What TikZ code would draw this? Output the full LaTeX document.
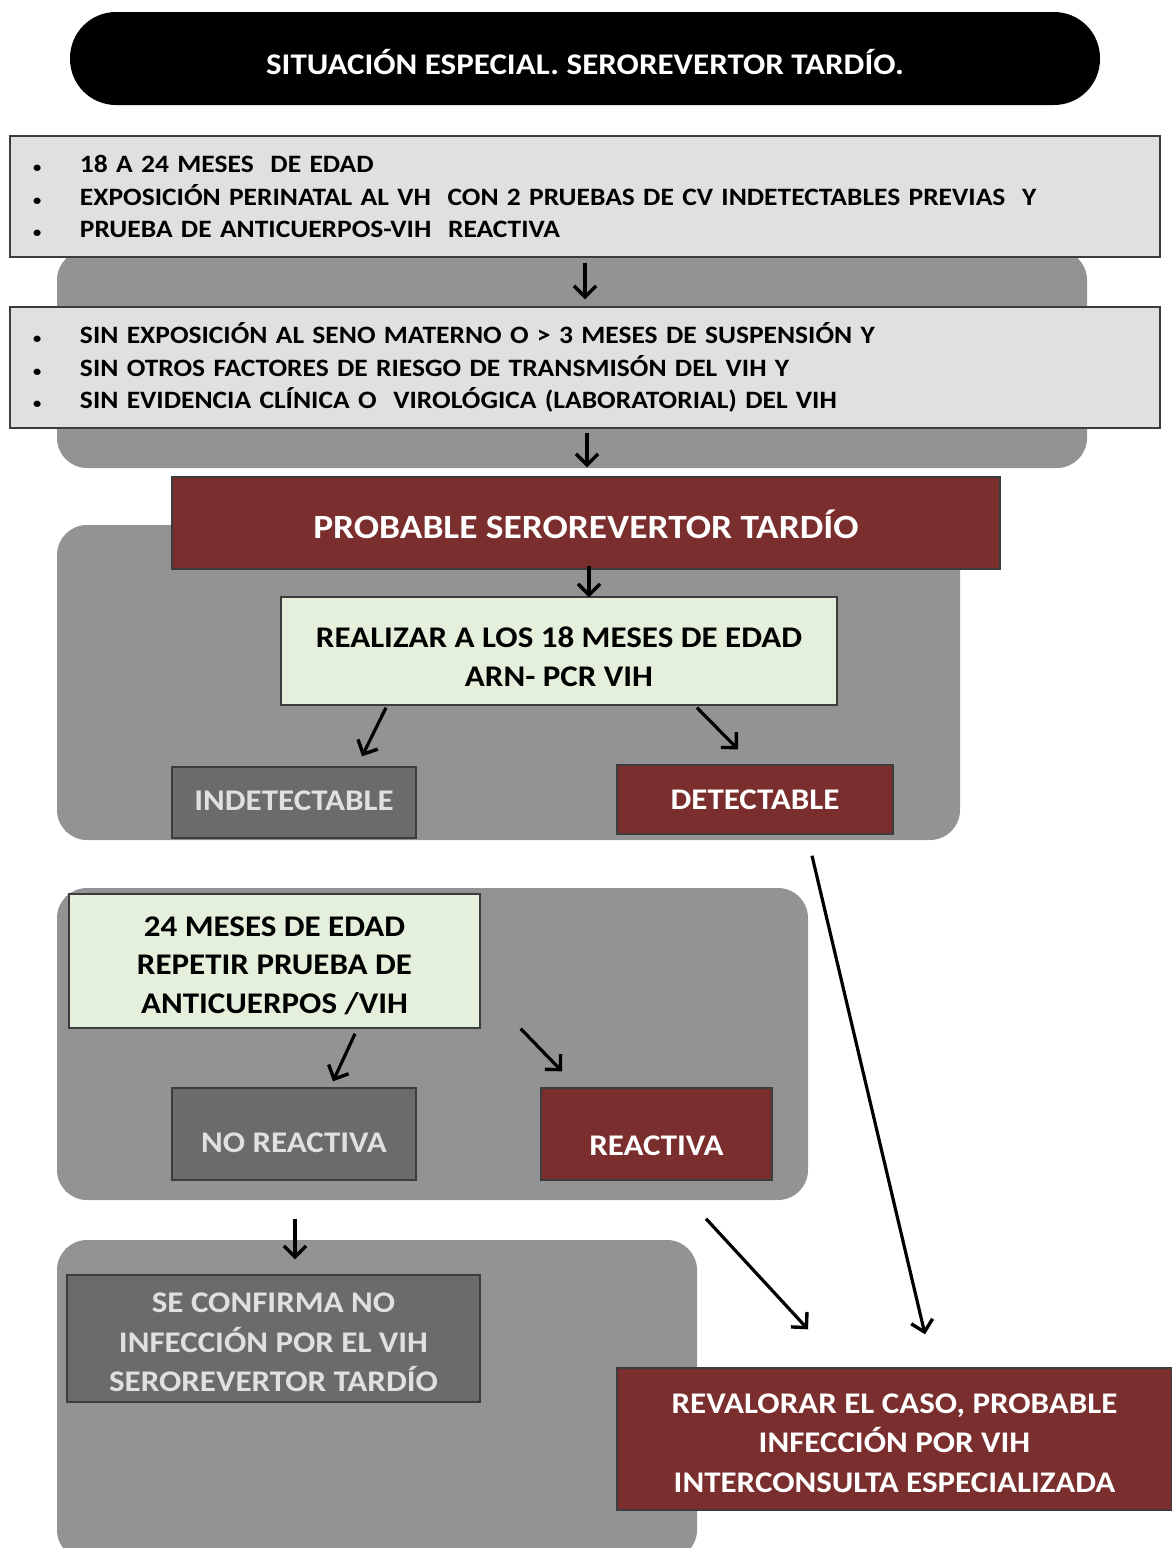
\documentclass[tikz,border=0pt]{standalone}
\usepackage{fontspec}
\setmainfont{Carlito}[FakeStretch=1.1]
\usetikzlibrary{arrows.meta,calc}

\definecolor{wine}{HTML}{7A2E2E}
\definecolor{panelgray}{HTML}{939393}
\definecolor{boxgray}{HTML}{6B6B6B}
\definecolor{listgray}{HTML}{E0E0E0}
\definecolor{mint}{HTML}{E4EFDC}
\definecolor{edgegray}{HTML}{3C3C3C}

\newcommand{\fs}[2]{\fontsize{#1}{#2}\selectfont\bfseries}
\newcommand{\bul}{\makebox[47pt][l]{\fontsize{15}{15}\selectfont •}}
% lowers a (possibly multi-line) centred label without changing its box
\newcommand{\dropby}[2]{\raisebox{-#1}[\height][\depth]{\begin{tabular}{@{}c@{}}#2\end{tabular}}}

\tikzset{
  panel/.style={fill=panelgray, rounded corners=30pt},
  listbox/.style={draw=edgegray, line width=1.4pt, fill=listgray, minimum width=1150pt,
    minimum height=121pt, text width=1104pt, align=left, inner sep=0pt, anchor=center,
    font=\fs{25}{32.5}},
  winebox/.style={draw=edgegray, line width=1.4pt, fill=wine, text=white, align=center, inner sep=0pt,
    font=\fs{30}{39.5}},
  graybox/.style={draw=edgegray, line width=1.4pt, fill=boxgray, text=white!88!black, align=center,
    inner sep=0pt, font=\fs{30}{39.5}},
  mintbox/.style={draw=edgegray, line width=1.4pt, fill=mint, text=black, align=center, inner sep=0pt,
    font=\fs{30}{38.5}},
  arr/.style={draw=black, line width=3.2pt, -{Straight Barb[length=11pt,width=22pt,line width=3.4pt]}},
}

\begin{document}
\begin{tikzpicture}[x=1pt,y=-1pt]
\useasboundingbox (0,0) rectangle (1172,1548);
\fill[white] (0,0) rectangle (1172,1548);

% background panels
\fill[panel] (57,250) rectangle (1087,468);
\fill[panel] (57,525) rectangle (960,840);
\fill[panel] (57,888) rectangle (808,1200);
\begin{scope}
  \clip (0,0) rectangle (1172,1548);
  \fill[panel] (57,1240) rectangle (697,1560);
\end{scope}

% title
\node[fill=black, rounded corners=46pt, minimum width=1030pt, minimum height=93pt,
      text=white, inner sep=0pt, font=\fs{30}{34}] (title) at (585,58.5)
  {\dropby{8pt}{SITUACIÓN ESPECIAL. SEROREVERTOR TARDÍO.}};

% criteria boxes
\node[listbox] (crit1) at (585,196.5) {%
  \bul 18 A 24 MESES\ \ DE EDAD\\
  \bul EXPOSICIÓN PERINATAL AL VH\ \ CON 2 PRUEBAS DE CV INDETECTABLES PREVIAS\ \ Y\\
  \bul PRUEBA DE ANTICUERPOS-VIH\ \ REACTIVA};

\node[listbox] (crit2) at (585,367.5) {%
  \bul SIN EXPOSICIÓN AL SENO MATERNO O > 3 MESES DE SUSPENSIÓN Y\\
  \bul SIN OTROS FACTORES DE RIESGO DE TRANSMISÓN DEL VIH Y\\
  \bul SIN EVIDENCIA CLÍNICA O\ \ VIROLÓGICA (LABORATORIAL) DEL VIH};

% decision flow
\node[winebox, minimum width=828pt, minimum height=92pt, font=\fs{34}{38}] (prob) at (586,523)
  {\dropby{7pt}{PROBABLE SEROREVERTOR TARDÍO}};

\node[mintbox, minimum width=556pt, minimum height=108pt] (pcr) at (559,651)
  {\dropby{8.5pt}{REALIZAR A LOS 18 MESES DE EDAD\\ARN- PCR VIH}};

\node[graybox, minimum width=244pt, minimum height=71pt] (indet) at (294,802.5)
  {\dropby{0pt}{INDETECTABLE}};

\node[winebox, minimum width=276pt, minimum height=69pt] (det) at (755,799.5)
  {DETECTABLE};

\node[mintbox, minimum width=411pt, minimum height=134pt] (anti) at (274.5,961)
  {\dropby{6pt}{24 MESES DE EDAD\\REPETIR PRUEBA DE\\ANTICUERPOS /VIH}};

\node[graybox, minimum width=244pt, minimum height=92pt] (noreact) at (294,1134)
  {\dropby{11pt}{NO REACTIVA}};

\node[winebox, minimum width=231pt, minimum height=92pt] (react) at (656.5,1134)
  {\dropby{14pt}{REACTIVA}};

\node[graybox, minimum width=413pt, minimum height=127pt] (confirm) at (273.5,1338.5)
  {\dropby{6pt}{SE CONFIRMA NO\\INFECCIÓN POR EL VIH\\SEROREVERTOR TARDÍO}};

\node[winebox, minimum width=555pt, minimum height=142pt] (reval) at (894.5,1439)
  {\dropby{6pt}{REVALORAR EL CASO, PROBABLE\\INFECCIÓN POR VIH\\INTERCONSULTA ESPECIALIZADA}};

% connectors
\draw[arr] ([yshift=-5pt]crit1.south) -- ([yshift=7pt]crit2.north);
\draw[arr] ([xshift=2pt,yshift=-4pt]crit2.south) -- ([xshift=1pt,yshift=9pt]prob.north);
\draw[arr] ([xshift=3pt,yshift=4pt]prob.south) -- ([xshift=30pt,yshift=-1pt]pcr.north);
\draw[arr] ([xshift=-173pt,yshift=-2pt]pcr.south) -- ([xshift=68pt,yshift=10pt]indet.north);
\draw[arr] ([xshift=138pt,yshift=-2pt]pcr.south) -- ([xshift=-17pt,yshift=15pt]det.north);
\draw[arr] ([xshift=57pt,yshift=-21pt]det.south) -- ([xshift=30.5pt,yshift=33pt]reval.north);
\draw[arr] ([xshift=80.5pt,yshift=-5pt]anti.south) -- ([xshift=39pt,yshift=6pt]noreact.north);
\draw[arr] ([xshift=40pt,yshift=0pt]anti.south east) -- ([xshift=-94.5pt,yshift=16pt]react.north);
\draw[arr] ([xshift=1pt,yshift=-38pt]noreact.south) -- ([xshift=21.5pt,yshift=15pt]confirm.north);
\draw[arr] ([xshift=49.5pt,yshift=-38pt]react.south) -- ([xshift=-86.5pt,yshift=38pt]reval.north);
\end{tikzpicture}
\end{document}
